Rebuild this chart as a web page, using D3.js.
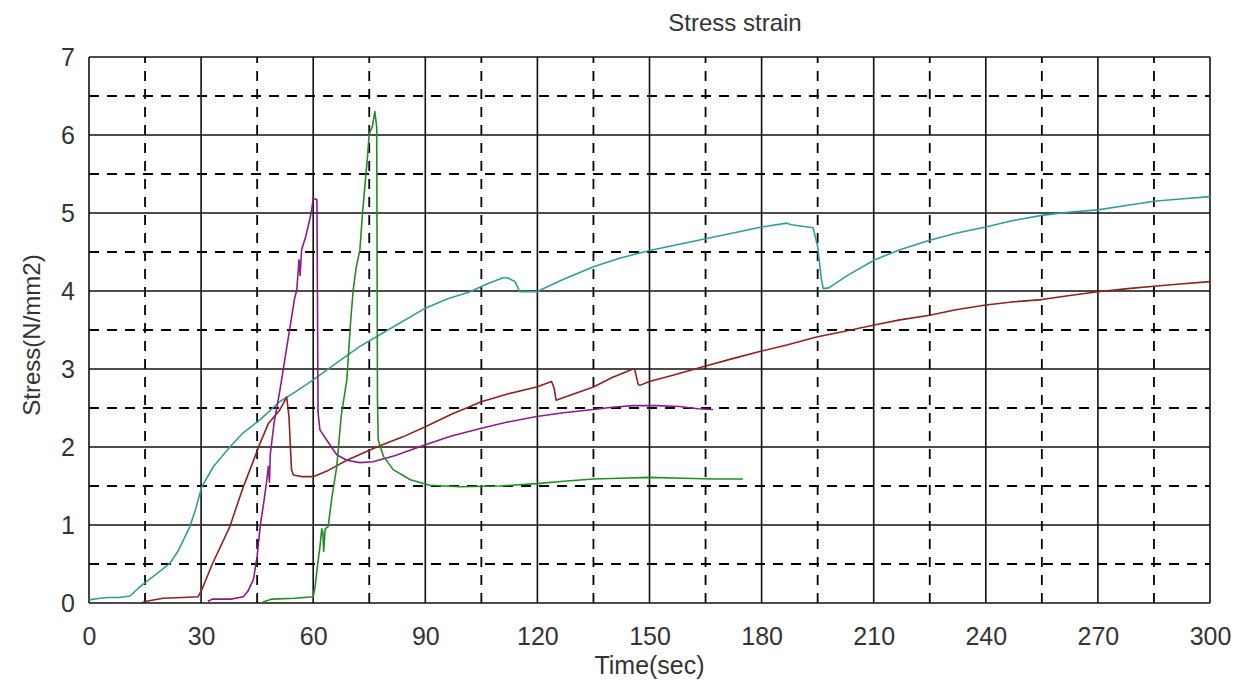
<!DOCTYPE html>
<html>
<head>
<meta charset="utf-8">
<script src="https://cdn.jsdelivr.net/npm/d3@7"></script>
<style>
  body { margin: 0; background: #fff; }
  text { font-family: "Liberation Sans", Arial, sans-serif; fill: #333; }
</style>
</head>
<body>
<svg width="1239" height="692"></svg>
<script>
// Tick labels
const xTicks = [0, 30, 60, 90, 120, 150, 180, 210, 240, 270, 300];
const yTicks = [0, 1, 2, 3, 4, 5, 6, 7];

// Series data: [time (sec), stress (N/mm2)]
const cyanSeries = [
  [0,0.04],[3,0.06],[5,0.07],[8,0.07],[11,0.09],[13,0.18],[15,0.26],[18,0.37],[21.7,0.51],
  [24,0.68],[27,0.98],[28.5,1.2],[30.2,1.49],[33.3,1.75],[37.7,2.0],[41,2.17],[45.8,2.35],
  [51,2.58],[55,2.7],[60,2.86],[66,3.07],[72.5,3.29],[80,3.5],[90,3.78],[96,3.9],[102,3.99],
  [106,4.08],[110.8,4.17],[112,4.17],[114,4.12],[115.3,3.99],[119.8,3.99],[127,4.15],[135,4.31],
  [142,4.42],[150,4.52],[158,4.6],[165,4.67],[174,4.76],[180,4.82],[186.7,4.87],[188,4.85],
  [193.8,4.81],[195,4.57],[196,4.15],[196.5,4.03],[198,4.04],[203,4.2],[210.3,4.4],[217,4.53],
  [225,4.65],[232,4.74],[240,4.82],[247,4.9],[255,4.97],[262,5.01],[270,5.04],[278,5.1],
  [285,5.15],[292,5.18],[300,5.21]
];
const brownSeries = [
  [14,0.0],[15,0.02],[19.8,0.06],[25,0.07],[29.2,0.08],[30.2,0.17],[33,0.5],[37.7,0.98],
  [41,1.45],[45.8,2.05],[48,2.3],[51,2.47],[52.9,2.64],[53.5,2.4],[54.2,1.71],[54.7,1.64],
  [57,1.62],[60,1.62],[64,1.7],[69,1.83],[77,2.0],[84,2.13],[90,2.26],[97,2.42],[105,2.58],
  [112,2.68],[119.8,2.77],[123.8,2.84],[124.5,2.75],[125,2.6],[128,2.65],[135,2.77],[140,2.89],
  [145.6,3.0],[146,3.0],[147,2.8],[147.4,2.79],[150,2.84],[157,2.93],[164.3,3.03],[172,3.13],
  [180,3.23],[187,3.31],[194.7,3.41],[202,3.48],[209.8,3.56],[217,3.63],[225,3.69],[232,3.76],
  [240,3.82],[247,3.86],[255,3.89],[262,3.94],[270,3.99],[278,4.03],[285,4.06],[292,4.09],[300,4.12]
];
const purpleSeries = [
  [31.8,0.02],[33,0.05],[38,0.05],[41.3,0.08],[42.5,0.15],[44,0.3],[45,0.6],[45.8,0.98],
  [46.8,1.3],[47.6,1.58],[48,1.75],[48.3,1.55],[48.5,1.9],[49.5,2.3],[51,2.7],[53,3.3],
  [55,3.9],[55.6,4.01],[56.2,4.4],[56.5,4.2],[56.9,4.53],[58,4.7],[59,4.9],[59.6,5.04],
  [60,5.19],[61,5.17],[61.3,2.44],[61.8,2.22],[63.6,2.09],[66.3,1.9],[69,1.83],[72.5,1.8],
  [76,1.81],[82,1.89],[90,2.03],[97,2.14],[105,2.24],[112,2.32],[119.8,2.39],[127,2.44],
  [135,2.48],[140,2.51],[145.6,2.53],[152,2.53],[158,2.52],[163,2.49],[167,2.48]
];
const greenSeries = [
  [46,0.0],[47,0.02],[49,0.05],[55,0.06],[60,0.08],[60.5,0.21],[61.2,0.5],[61.8,0.72],
  [62.3,0.95],[62.6,0.9],[62.8,0.66],[63.2,0.95],[64,0.98],[65,1.35],[66.3,1.75],[67.5,2.4],
  [69,2.86],[70,3.6],[70.7,4.01],[71.5,4.3],[72.5,4.53],[73.2,5.0],[73.9,5.38],[74.5,5.7],
  [75,6.02],[75.8,6.1],[76.5,6.3],[77,6.1],[77.2,2.6],[77.4,2.09],[78.8,1.88],[81.4,1.71],
  [86,1.58],[91.2,1.51],[99.3,1.49],[110,1.5],[119.8,1.53],[127,1.56],[135,1.59],[142,1.6],
  [150,1.61],[159,1.6],[167,1.59],[175,1.59]
];

const series = [
  {data: cyanSeries, color: "#339c9c"},
  {data: brownSeries, color: "#8c2323"},
  {data: purpleSeries, color: "#8e1a8e"},
  {data: greenSeries, color: "#238c23"}
];

const svg = d3.select("svg");
const margin = {top: 57, right: 29, bottom: 89, left: 89};
const width = +svg.attr("width") - margin.left - margin.right;
const height = +svg.attr("height") - margin.top - margin.bottom;

const x = d3.scaleLinear().domain([0, 300]).range([0, width]);
const y = d3.scaleLinear().domain([0, 7]).range([height, 0]);

const g = svg.append("g")
    .attr("transform", `translate(${margin.left},${margin.top})`);

// Dashed half-step grid
const xMinor = xTicks.slice(0, -1).map(d => d + 15);
const yMinor = yTicks.slice(0, -1).map(d => d + 0.5);

g.append("g").selectAll("line")
  .data(xMinor)
  .enter().append("line")
    .attr("x1", d => x(d)).attr("x2", d => x(d))
    .attr("y1", height).attr("y2", 0)
    .attr("stroke", "#000")
    .attr("stroke-width", 1.8)
    .attr("stroke-dasharray", "10,8");

g.append("g").selectAll("line")
  .data(yMinor)
  .enter().append("line")
    .attr("x1", 0).attr("x2", width)
    .attr("y1", d => y(d)).attr("y2", d => y(d))
    .attr("stroke", "#000")
    .attr("stroke-width", 1.8)
    .attr("stroke-dasharray", "10,8");

// Solid grid
g.append("g").selectAll("line")
  .data(xTicks)
  .enter().append("line")
    .attr("x1", d => x(d)).attr("x2", d => x(d))
    .attr("y1", 0).attr("y2", height)
    .attr("stroke", "#111")
    .attr("stroke-width", 1.6);

g.append("g").selectAll("line")
  .data(yTicks)
  .enter().append("line")
    .attr("x1", 0).attr("x2", width)
    .attr("y1", d => y(d)).attr("y2", d => y(d))
    .attr("stroke", "#111")
    .attr("stroke-width", 1.6);

// Curves
const line = d3.line()
    .x(d => x(d[0]))
    .y(d => y(d[1]));

g.append("g").selectAll("path")
  .data(series)
  .enter().append("path")
    .attr("fill", "none")
    .attr("stroke", d => d.color)
    .attr("stroke-width", 1.6)
    .attr("stroke-linejoin", "round")
    .attr("d", d => line(d.data));

// Axes (labels only)
const xAxis = g.append("g")
    .attr("transform", `translate(0,${height})`)
    .call(d3.axisBottom(x).tickValues(xTicks).tickFormat(d3.format("d")).tickSize(0).tickPadding(24));
xAxis.select(".domain").remove();
xAxis.selectAll("text").attr("font-size", "25px").style("fill", "#333");

const yAxis = g.append("g")
    .call(d3.axisLeft(y).tickValues(yTicks).tickFormat(d3.format("d")).tickSize(0).tickPadding(14));
yAxis.select(".domain").remove();
yAxis.selectAll("text").attr("font-size", "25px").style("fill", "#333");

// Titles
svg.append("text")
    .attr("x", 735)
    .attr("y", 31)
    .attr("text-anchor", "middle")
    .attr("font-size", "24px")
    .text("Stress strain");

svg.append("text")
    .attr("x", margin.left + width / 2)
    .attr("y", 674)
    .attr("text-anchor", "middle")
    .attr("font-size", "25px")
    .text("Time(sec)");

svg.append("text")
    .attr("transform", `translate(40,335) rotate(-90)`)
    .attr("text-anchor", "middle")
    .attr("font-size", "24px")
    .text("Stress(N/mm2)");
</script>
</body>
</html>
